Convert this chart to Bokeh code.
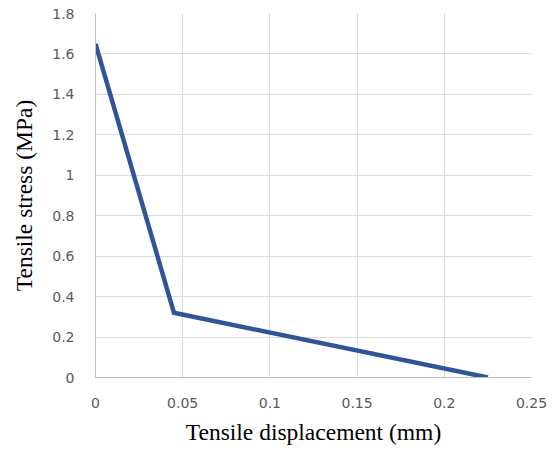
from bokeh.plotting import figure
from bokeh.models import Range1d, FixedTicker, CustomJSTickFormatter
from bokeh.embed import file_html
from bokeh.resources import INLINE

# Data
displacement = [0.0, 0.045, 0.225]
stress = [1.65, 0.32, 0.0]
x_ticks = [0, 0.05, 0.1, 0.15, 0.2, 0.25]
y_ticks = [0, 0.2, 0.4, 0.6, 0.8, 1, 1.2, 1.4, 1.6, 1.8]

p = figure(output_backend="svg", toolbar_location=None,
           frame_width=436, frame_height=364,
           min_border_left=95, min_border_top=13, min_border_right=22, min_border_bottom=68,
           x_range=Range1d(0, 0.25), y_range=Range1d(0, 1.8))
p.outline_line_color = None
p.background_fill_color = "white"
p.border_fill_color = "white"

p.line(displacement, stress, line_color="#2F5597", line_width=4.5, line_join="miter")

fmt = CustomJSTickFormatter(code="return String(Math.round(tick*100)/100);")
p.xaxis.ticker = FixedTicker(ticks=x_ticks)
p.yaxis.ticker = FixedTicker(ticks=y_ticks)
p.xaxis.formatter = fmt
p.yaxis.formatter = fmt

for ax in (p.xaxis[0], p.yaxis[0]):
    ax.axis_line_color = "#BFBFBF"
    ax.axis_line_width = 1
    ax.major_tick_line_color = None
    ax.minor_tick_line_color = None
    ax.major_label_text_font = "DejaVu Sans"
    ax.major_label_text_font_size = "14px"
    ax.major_label_text_color = "#595959"
    ax.axis_label_text_font = "Liberation Serif"
    ax.axis_label_text_font_size = "23.5px"
    ax.axis_label_text_font_style = "normal"
    ax.axis_label_text_color = "#000000"

p.xaxis.axis_label = "Tensile displacement (mm)"
p.yaxis.axis_label = "Tensile stress (MPa)"
p.xaxis.major_label_standoff = 14
p.yaxis.major_label_standoff = 15
p.xaxis.axis_label_standoff = 8
p.yaxis.axis_label_standoff = 12

p.xgrid.ticker = FixedTicker(ticks=x_ticks)
p.ygrid.ticker = FixedTicker(ticks=y_ticks)
p.xgrid.grid_line_color = "#D9D9D9"
p.ygrid.grid_line_color = "#D9D9D9"

open("out.html", "w").write(file_html(p, INLINE))
